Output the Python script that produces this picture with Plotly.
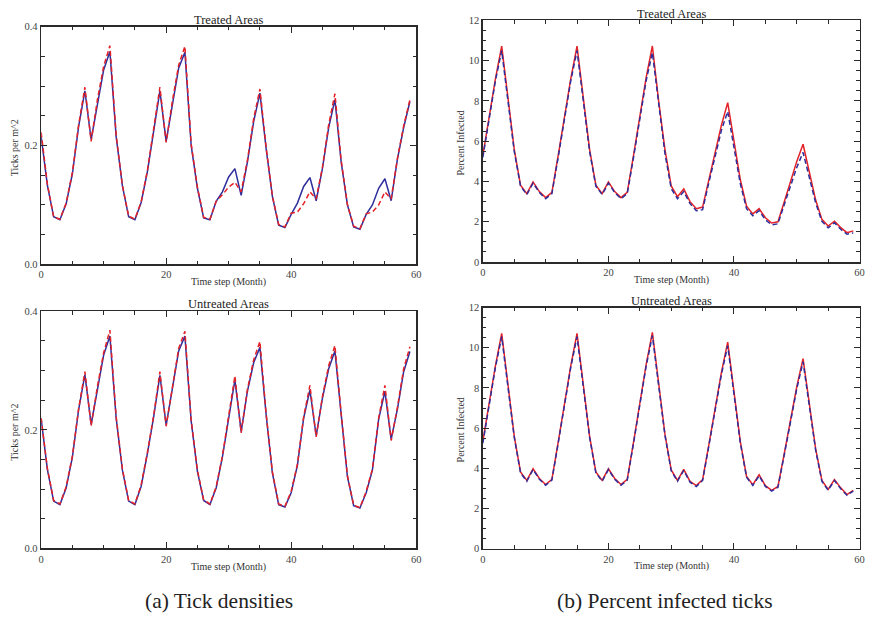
import plotly.graph_objects as go

months = list(range(60))

# Panel (a) top: Treated Areas - tick densities
dens_treated_blue = [0.215, 0.133, 0.080, 0.075, 0.102, 0.152, 0.232, 0.292, 0.210, 0.272, 0.327, 0.358,
                     0.215, 0.132, 0.080, 0.075, 0.104, 0.156, 0.225, 0.292, 0.207, 0.270, 0.330, 0.357,
                     0.200, 0.128, 0.078, 0.075, 0.106, 0.122, 0.147, 0.161, 0.116, 0.172, 0.240, 0.288,
                     0.194, 0.114, 0.066, 0.062, 0.084, 0.103, 0.131, 0.146, 0.107, 0.161, 0.230, 0.277,
                     0.172, 0.100, 0.063, 0.059, 0.084, 0.100, 0.128, 0.144, 0.107, 0.177, 0.230, 0.274]
dens_treated_red = [0.222, 0.135, 0.080, 0.076, 0.103, 0.155, 0.235, 0.298, 0.207, 0.277, 0.333, 0.368,
                    0.218, 0.133, 0.081, 0.076, 0.105, 0.158, 0.228, 0.298, 0.205, 0.275, 0.335, 0.367,
                    0.203, 0.130, 0.079, 0.076, 0.106, 0.117, 0.130, 0.138, 0.122, 0.175, 0.245, 0.295,
                    0.197, 0.115, 0.067, 0.063, 0.086, 0.088, 0.102, 0.122, 0.110, 0.163, 0.235, 0.287,
                    0.175, 0.101, 0.064, 0.060, 0.085, 0.088, 0.100, 0.122, 0.110, 0.178, 0.233, 0.277]

# Panel (a) bottom: Untreated Areas - tick densities
dens_untreated_blue = [0.218, 0.133, 0.080, 0.074, 0.102, 0.154, 0.234, 0.293, 0.209, 0.270, 0.326, 0.358,
                       0.220, 0.132, 0.080, 0.074, 0.105, 0.160, 0.222, 0.292, 0.208, 0.270, 0.333, 0.358,
                       0.215, 0.130, 0.081, 0.074, 0.102, 0.154, 0.221, 0.284, 0.197, 0.265, 0.313, 0.339,
                       0.225, 0.127, 0.074, 0.070, 0.094, 0.140, 0.220, 0.267, 0.190, 0.253, 0.303, 0.333,
                       0.226, 0.121, 0.072, 0.068, 0.094, 0.132, 0.218, 0.265, 0.184, 0.235, 0.298, 0.332]
dens_untreated_red = [0.220, 0.135, 0.081, 0.075, 0.104, 0.156, 0.236, 0.298, 0.207, 0.273, 0.330, 0.368,
                      0.222, 0.134, 0.081, 0.075, 0.107, 0.162, 0.224, 0.298, 0.206, 0.273, 0.337, 0.366,
                      0.217, 0.132, 0.082, 0.075, 0.104, 0.156, 0.223, 0.291, 0.195, 0.268, 0.318, 0.349,
                      0.227, 0.129, 0.075, 0.071, 0.096, 0.142, 0.222, 0.275, 0.188, 0.256, 0.308, 0.342,
                      0.228, 0.123, 0.073, 0.069, 0.096, 0.134, 0.220, 0.275, 0.182, 0.238, 0.303, 0.340]

# Panel (b) top: Treated Areas - percent infected
inf_treated_red = [5.30, 7.20, 9.10, 10.72, 8.05, 5.60, 3.82, 3.40, 3.98, 3.50, 3.20, 3.46,
                   5.30, 7.20, 9.10, 10.72, 8.05, 5.60, 3.82, 3.40, 3.98, 3.50, 3.20, 3.46,
                   5.30, 7.25, 9.15, 10.73, 8.00, 5.60, 3.78, 3.25, 3.63, 3.00, 2.65, 2.73,
                   4.10, 5.55, 6.80, 7.92, 5.93, 4.10, 2.77, 2.39, 2.65, 2.20, 1.94, 2.00,
                   2.98, 4.00, 5.00, 5.85, 4.41, 3.09, 2.12, 1.79, 2.03, 1.71, 1.46, 1.55]
inf_treated_blue = [5.20, 7.10, 9.00, 10.50, 7.95, 5.50, 3.77, 3.35, 3.92, 3.45, 3.15, 3.40,
                    5.20, 7.10, 9.00, 10.50, 7.95, 5.50, 3.77, 3.35, 3.92, 3.45, 3.15, 3.40,
                    5.20, 7.10, 9.00, 10.40, 7.80, 5.40, 3.65, 3.15, 3.50, 2.90, 2.55, 2.60,
                    3.95, 5.30, 6.55, 7.48, 5.60, 3.90, 2.65, 2.30, 2.55, 2.10, 1.85, 1.90,
                    2.85, 3.80, 4.70, 5.45, 4.15, 2.95, 2.02, 1.70, 1.95, 1.63, 1.38, 1.45]

# Panel (b) bottom: Untreated Areas - percent infected
inf_untreated_red = [5.35, 7.20, 9.10, 10.72, 8.05, 5.60, 3.82, 3.40, 3.98, 3.50, 3.20, 3.46,
                     5.30, 7.20, 9.10, 10.72, 8.05, 5.60, 3.82, 3.40, 3.98, 3.50, 3.20, 3.46,
                     5.30, 7.25, 9.15, 10.77, 8.13, 5.70, 3.92, 3.40, 3.95, 3.35, 3.14, 3.44,
                     5.18, 6.98, 8.78, 10.28, 7.71, 5.34, 3.60, 3.19, 3.68, 3.14, 2.91, 3.10,
                     4.72, 6.39, 8.06, 9.46, 7.13, 4.98, 3.40, 2.95, 3.44, 3.03, 2.70, 2.91]
inf_untreated_blue = [5.25, 7.12, 9.02, 10.55, 7.98, 5.55, 3.78, 3.36, 3.94, 3.46, 3.16, 3.42,
                      5.25, 7.12, 9.02, 10.55, 7.98, 5.55, 3.78, 3.36, 3.94, 3.46, 3.16, 3.42,
                      5.25, 7.17, 9.07, 10.60, 8.05, 5.65, 3.88, 3.36, 3.90, 3.31, 3.10, 3.40,
                      5.12, 6.90, 8.68, 10.10, 7.62, 5.28, 3.56, 3.15, 3.63, 3.10, 2.87, 3.06,
                      4.66, 6.30, 7.96, 9.30, 7.03, 4.92, 3.36, 2.91, 3.40, 2.99, 2.66, 2.87]

x_ticks = [0, 20, 40, 60]
dens_ticks = [0.0, 0.2, 0.4]
dens_labels = ["0.0", "0.2", "0.4"]
inf_ticks = [0, 2, 4, 6, 8, 10, 12]

panel_titles = ["Treated Areas", "Treated Areas", "Untreated Areas", "Untreated Areas"]
x_title = "Time step (Month)"
y_titles = ["Ticks per m^2", "Percent Infected"]
captions = ["(a) Tick densities", "(b) Percent infected ticks"]

BLUE = "#2e2e9c"
RED = "#e32228"
W, H = 871, 621
SERIF = '"Liberation Serif", "Times New Roman", Times, serif'

fig = go.Figure()

def add(x, y, xa, ya, color, dash):
    fig.add_trace(go.Scatter(x=x, y=y, xaxis=xa, yaxis=ya, mode="lines",
                             line=dict(color=color, width=1.5, dash=dash),
                             showlegend=False, hoverinfo="skip"))

add(months, dens_treated_blue, "x", "y", BLUE, "solid")
add(months, dens_treated_red, "x", "y", RED, "5px,3px")
add(months, inf_treated_red, "x2", "y2", RED, "solid")
add(months, inf_treated_blue, "x2", "y2", BLUE, "5px,3px")
add(months, dens_untreated_blue, "x3", "y3", BLUE, "solid")
add(months, dens_untreated_red, "x3", "y3", RED, "5px,3px")
add(months, inf_untreated_red, "x4", "y4", RED, "solid")
add(months, inf_untreated_blue, "x4", "y4", BLUE, "5px,3px")

def px_x(p):
    return p / W

def px_y(p):
    return 1 - p / H

# panel pixel boxes: (left, right, top, bottom)
boxes = [(38.5, 417, 22, 264), (484.3, 864.5, 15.7, 261.7),
         (38.5, 417, 311.7, 553.3), (484.3, 864.5, 308, 553.6)]

axis_common = dict(showgrid=False, zeroline=False, showline=True, linecolor="#2a2a2a",
                   linewidth=1.5, mirror="allticks", ticks="inside", tickcolor="#2a2a2a",
                   ticklen=6, tickwidth=1, ticklabeloverflow="allow",
                   tickfont=dict(family=SERIF, size=10.5, color="#444444"))

layout = dict(width=W, height=H, margin=dict(l=0, r=0, t=0, b=0),
              paper_bgcolor="white", plot_bgcolor="white", showlegend=False)

for i, (l, r, t, b) in enumerate(boxes):
    sx = "" if i == 0 else str(i + 1)
    xa = dict(axis_common, domain=[px_x(l), px_x(r)], range=[0, 60],
              tickmode="array", tickvals=x_ticks,
              minor=dict(dtick=5, ticks="inside", ticklen=3.5, tickcolor="#2a2a2a", showgrid=False),
              anchor="y" + sx)
    if i % 2 == 0:
        ya = dict(axis_common, domain=[px_y(b), px_y(t)], range=[0, 0.4],
                  tickmode="array", tickvals=dens_ticks, ticktext=dens_labels,
                  minor=dict(dtick=0.05, ticks="inside", ticklen=3.5, tickcolor="#2a2a2a", showgrid=False),
                  anchor="x" + sx)
    else:
        ya = dict(axis_common, domain=[px_y(b), px_y(t)], range=[0, 12],
                  tickmode="array", tickvals=inf_ticks,
                  minor=dict(dtick=0.5, ticks="inside", ticklen=3.5, tickcolor="#2a2a2a", showgrid=False),
                  anchor="x" + sx)
    layout["xaxis" + sx] = xa
    layout["yaxis" + sx] = ya

fig.update_layout(**layout)

ann = []
title_y = [15, 9.5, 304, 301]
xtitle_y = [282.5, 279.5, 572, 571]
ytitle_x = [12, 461.5, 12, 461.5]
for i, (l, r, t, b) in enumerate(boxes):
    cx = (l + r) / 2
    ann.append(dict(text=panel_titles[i], x=px_x(cx), y=px_y(title_y[i]), xref="paper", yref="paper",
                    showarrow=False, xanchor="center", yanchor="middle",
                    font=dict(family=SERIF, size=12.5, color="#222222")))
    ann.append(dict(text=x_title, x=px_x(cx), y=px_y(xtitle_y[i]), xref="paper", yref="paper",
                    showarrow=False, xanchor="center", yanchor="middle",
                    font=dict(family=SERIF, size=10, color="#333333")))
    ann.append(dict(text=y_titles[i % 2], x=px_x(ytitle_x[i]), y=px_y((t + b) / 2 + 2), xref="paper",
                    yref="paper", showarrow=False, xanchor="center", yanchor="middle", textangle=-90,
                    font=dict(family=SERIF, size=10, color="#333333")))

ann.append(dict(text=captions[0], x=px_x(218.5), y=px_y(607), xref="paper", yref="paper",
                showarrow=False, xanchor="center", yanchor="middle",
                font=dict(family=SERIF, size=21.5, color="#222222")))
ann.append(dict(text=captions[1], x=px_x(668), y=px_y(607), xref="paper", yref="paper",
                showarrow=False, xanchor="center", yanchor="middle",
                font=dict(family=SERIF, size=21.5, color="#222222")))

fig.update_layout(annotations=ann)
fig.write_html("out.html", config={"displayModeBar": False, "staticPlot": True},
               post_script="document.body.style.margin='0px';document.body.style.overflow='hidden';")
